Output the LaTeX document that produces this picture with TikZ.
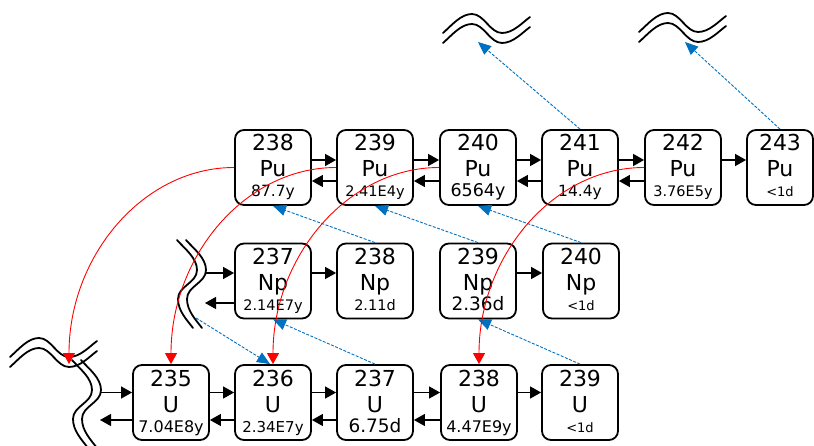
\documentclass[tikz,border=0pt]{standalone}
\usepackage{fontspec}
\setmainfont{DejaVu Sans}
\usetikzlibrary{arrows.meta}
\definecolor{decayblue}{RGB}{0,112,192}
\newcommand\isolab[5]{\vbox{\hsize=#5\parindent=0pt\centering
  \fontsize{22}{26}\selectfont #1\par
  \fontsize{22}{26}\selectfont #2\par
  \fontsize{#3}{20}\selectfont #4\par}}
\tikzset{
  iso/.style={draw, line width=1.8pt, rounded corners=9pt, inner sep=0pt,
    minimum width=76pt, minimum height=75pt, text height=67pt, text depth=8pt},
  fwd/.style={line width=1.2pt, -{Triangle[length=11pt,width=12pt]}},
  rarr/.style={red, line width=0.9pt, -{Triangle[length=11pt,width=12pt]}},
  barr/.style={decayblue, line width=0.9pt, dash pattern=on 3pt off 1.5pt,
    -{Triangle[length=13pt,width=11pt]}},
  wline/.style={line width=1.8pt, line cap=round},
  hwave/.pic={
    \draw[wline] (0,0) .. controls (9,-8) and (18,-19) .. (29,-19)
      .. controls (41,-19) and (47,0) .. (59,0) .. controls (70,0) and (79,-10) .. (87,-16);
    \draw[wline] (0,10) .. controls (9,2) and (18,-9) .. (29,-9)
      .. controls (41,-9) and (47,10) .. (59,10) .. controls (70,10) and (79,0) .. (87,-6);
  },
  vwave/.pic={
    \draw[wline] (0,0) .. controls (8,9) and (20,18) .. (20,30)
      .. controls (20,43) and (1,46) .. (1,59) .. controls (1,71) and (10,80) .. (16,88);
    \draw[wline] (9,0) .. controls (17,9) and (29,18) .. (29,30)
      .. controls (29,43) and (10,46) .. (10,59) .. controls (10,71) and (19,80) .. (25,88);
  }
}
\begin{document}
\begin{tikzpicture}[x=1pt,y=-1pt]
\useasboundingbox (0,0) rectangle (814,446);

% break symbols
\pic at (443,33) {hwave};
\pic at (639,32) {hwave};
\pic at (10,357) {hwave};
\pic at (177,240) {vwave};
\pic at (72,360) {vwave};

% Pu row
\node[iso] (pu238) at (273,167.5) {\isolab{238}{Pu}{15.5}{87.7y}{76pt}};
\node[iso] (pu239) at (375,167.5) {\isolab{239}{Pu}{14.5}{2.41E4y}{76pt}};
\node[iso] (pu240) at (478,167.5) {\isolab{240}{Pu}{17.5}{6564y}{76pt}};
\node[iso] (pu241) at (580,167.5) {\isolab{241}{Pu}{15.5}{14.4y}{76pt}};
\node[iso] (pu242) at (683,167.5) {\isolab{242}{Pu}{14.5}{3.76E5y}{76pt}};
\node[iso, minimum width=66pt] (pu243) at (780,167.5) {\isolab{243}{Pu}{13}{<1d}{66pt}};

% Np row
\node[iso] (np237) at (273,281) {\isolab{237}{Np}{14.5}{2.14E7y}{76pt}};
\node[iso] (np238) at (375,281) {\isolab{238}{Np}{14.5}{2.11d}{76pt}};
\node[iso] (np239) at (478,281) {\isolab{239}{Np}{18.5}{2.36d}{76pt}};
\node[iso] (np240) at (581,281) {\isolab{240}{Np}{13}{<1d}{76pt}};

% U row
\node[iso] (u235) at (171,402.5) {\isolab{235}{U}{16}{7.04E8y}{76pt}};
\node[iso] (u236) at (273,402.5) {\isolab{236}{U}{15}{2.34E7y}{76pt}};
\node[iso] (u237) at (375,402.5) {\isolab{237}{U}{18.5}{6.75d}{76pt}};
\node[iso] (u238) at (479,402.5) {\isolab{238}{U}{16}{4.47E9y}{76pt}};
\node[iso] (u239) at (580,402.5) {\isolab{239}{U}{13}{<1d}{76pt}};

% free ends
\coordinate (npw1) at (205,273);
\coordinate (npw2) at (205,303);
\coordinate (uw1) at (100,392.5);
\coordinate (uw2) at (100,420);
\coordinate (uwred) at (69,364);
\coordinate (tw1) at (478,42);
\coordinate (tw2) at (685,42);
\coordinate (npwb) at (196,318);

% Pu row arrows
\foreach \a/\b in {pu238/pu239,pu239/pu240,pu240/pu241,pu241/pu242,pu242/pu243}
  \draw[fwd] ([yshift=7.5pt]\a.east) -- ([yshift=7.5pt]\b.west);
\foreach \a/\b in {pu239/pu238,pu240/pu239,pu241/pu240,pu242/pu241}
  \draw[fwd] ([yshift=-13.5pt]\a.west) -- ([yshift=-13.5pt]\b.east);

% Np row arrows
\draw[fwd] (npw1) -- ([yshift=8pt]np237.west);
\draw[fwd] ([yshift=-22pt]np237.west) -- (npw2);
\foreach \a/\b in {np237/np238,np239/np240}
  \draw[fwd] ([yshift=8pt]\a.east) -- ([yshift=8pt]\b.west);

% U row arrows
\draw[fwd] (uw1) -- ([yshift=10pt]u235.west);
\draw[fwd] ([yshift=-17.5pt]u235.west) -- (uw2);
\foreach \a/\b in {u235/u236,u236/u237,u237/u238,u238/u239}
  \draw[fwd] ([yshift=10pt]\a.east) -- ([yshift=10pt]\b.west);
\foreach \a/\b in {u236/u235,u237/u236,u238/u237}
  \draw[fwd] ([yshift=-17.5pt]\a.west) -- ([yshift=-17.5pt]\b.east);

% beta decays (blue dashed)
\draw[barr] (pu241.north) -- (tw1);
\draw[barr] (pu243.north) -- (tw2);
\draw[barr] (np238.north) -- (pu238.south);
\draw[barr] (np239.north) -- (pu239.south);
\draw[barr] (np240.north) -- (pu240.south);
\draw[barr] (u237.north) -- (np237.south);
\draw[barr] (u239.north) -- (np239.south);
\draw[barr] (npwb) -- ([xshift=-3pt]u236.north);

% alpha decays (red)
\draw[rarr] (pu238.west) .. controls +(-91,0) and +(0,-108) .. (uwred);
\draw[rarr] (pu239.west) .. controls +(-91,0) and +(0,-108) .. (u235.north);
\draw[rarr] (pu240.west) .. controls +(-91,0) and +(0,-108) .. (u236.north);
\draw[rarr] (pu242.west) .. controls +(-91,0) and +(0,-108) .. (u238.north);
\end{tikzpicture}
\end{document}
